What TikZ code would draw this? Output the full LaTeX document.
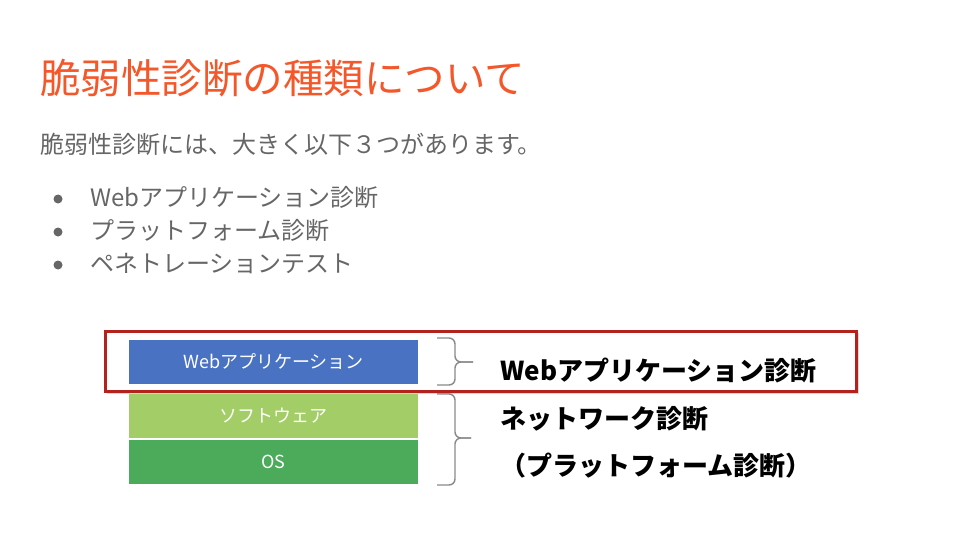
\documentclass[tikz,border=0pt]{standalone}
\usepackage{fontspec}
\setmainfont{Noto Sans CJK JP}
\usepackage{tikz}
\usetikzlibrary{shapes}
\definecolor{titlered}{HTML}{F4572A}
\definecolor{bodygray}{HTML}{666666}
\definecolor{layerblue}{HTML}{4A72C2}
\definecolor{layerlime}{HTML}{A3CD66}
\definecolor{layergreen}{HTML}{4CAB5B}
\definecolor{markred}{HTML}{B3221C}
\definecolor{bracegray}{HTML}{8A8A8A}
\tikzstyle{title}=[anchor=west,inner sep=0mm,text=titlered,font=\fontsize{40.5}{48}\selectfont]
\tikzstyle{body}=[anchor=west,inner sep=0mm,text=bodygray,font=\fontsize{24}{29}\selectfont]
\tikzstyle{dot}=[circle,fill=bodygray,inner sep=0mm,minimum size=9pt]
\tikzstyle{layer}=[rectangle,inner sep=0mm,minimum width=289pt,minimum height=44pt,text=white,font=\fontsize{18}{22}\selectfont]
\tikzstyle{label}=[anchor=west,inner sep=0mm,text=black,font=\bfseries\fontsize{26}{31}\selectfont]
\tikzstyle{brace}=[draw=bracegray,line width=1.4pt,rounded corners=6pt]

\begin{document}
\begin{tikzpicture}[x=1pt,y=-1pt]
      \useasboundingbox (0,0) rectangle (960,540);
      \node[title] at (40,78) (head) {脆弱性診断の種類について};
      \node[body] at (40,144) (lead) {脆弱性診断には、大きく以下３つがあります。};
      \node[dot] at (58,199) (b1) {};
      \node[dot] at (58,232) (b2) {};
      \node[dot] at (58,265) (b3) {};
      \node[body] at (90,197) (t1) {Webアプリケーション診断};
      \node[body] at (90,230) (t2) {プラットフォーム診断};
      \node[body] at (90,264) (t3) {ペネトレーションテスト};
      % layers
      \node[layer,fill=layerlime] at (273.5,416) (soft) {ソフトウェア};
      \node[layer,fill=layergreen] at (273.5,462) (os) {OS};
      % braces
      \draw[brace] (437,394) -- (455,394) -- (455,438) -- (471,438);
      \draw[brace] (437,485) -- (455,485) -- (455,438) -- (471,438);
      \node[label] at (500,419) (netdiag) {ネットワーク診断};
      \node[label] at (500,466) (platdiag) {（プラットフォーム診断）};
      % highlight
      \fill[black,opacity=0.15] (107,333) rectangle (859,394);
      \fill[white] (106.5,332.5) rectangle (855.5,390.5);
      \node[layer,fill=layerblue] at (273.5,362) (web) {Webアプリケーション};
      \draw[brace] (437,338) -- (455,338) -- (455,362) -- (473,362);
      \draw[brace] (437,385) -- (455,385) -- (455,362) -- (473,362);
      \node[label] at (500,370) (webdiag) {Webアプリケーション診断};
      \draw[markred,line width=3pt] (105,331) rectangle (856,391);
    \end{tikzpicture}
\end{document}
